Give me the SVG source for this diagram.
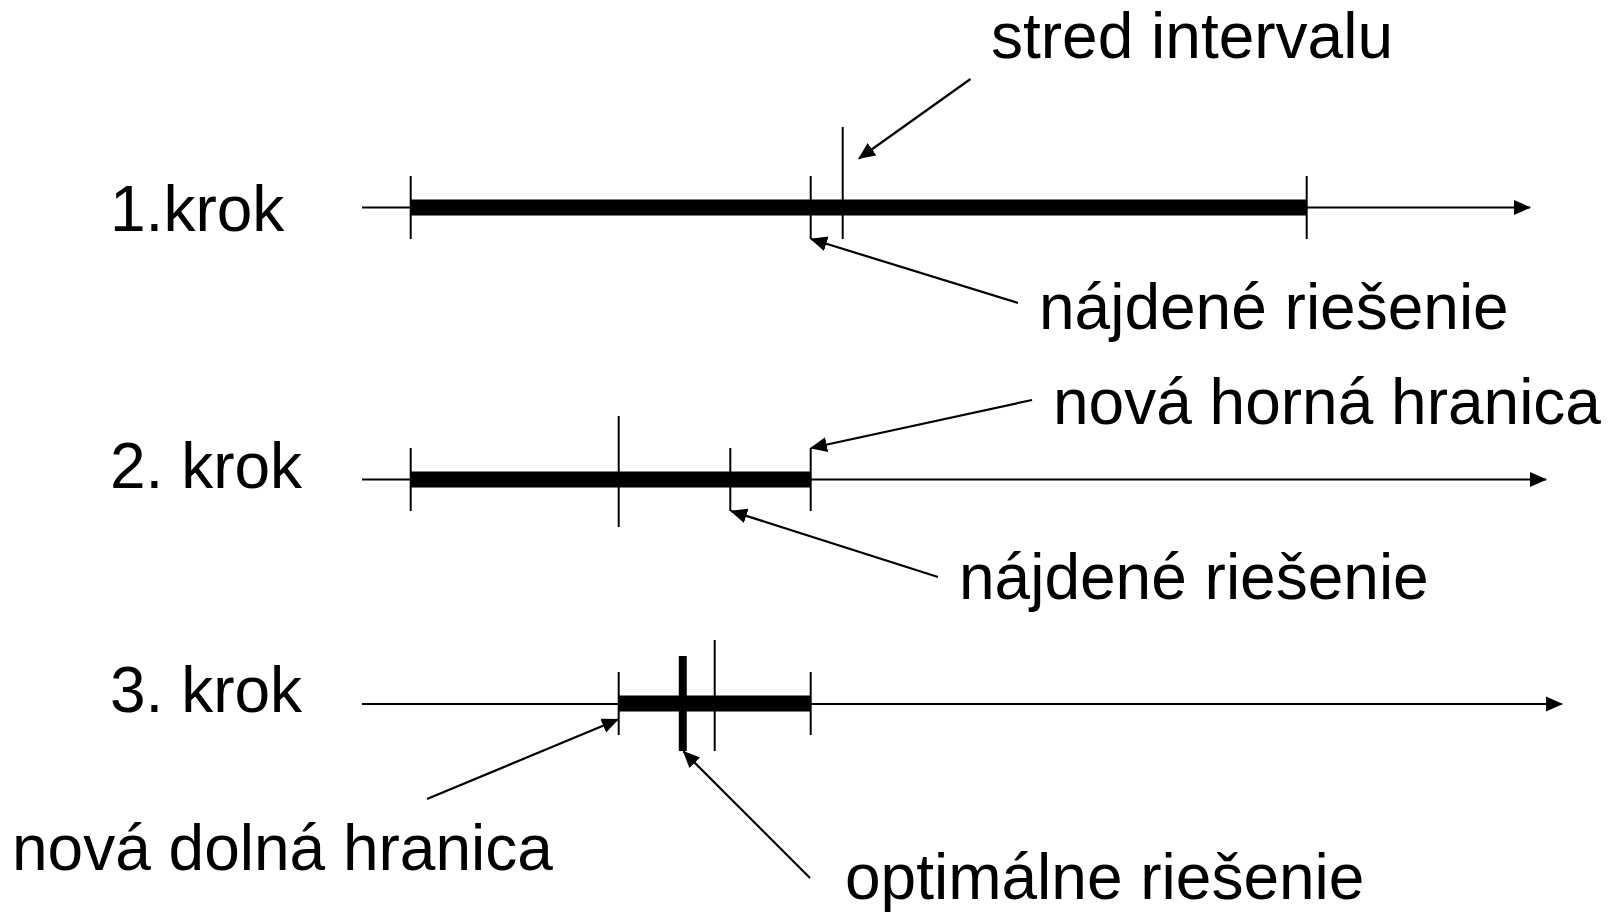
<svg xmlns="http://www.w3.org/2000/svg" width="1614" height="913" viewBox="0 0 1614 913">
  <style>
    .lbl { font-family: "Liberation Sans", Arial, sans-serif; font-size: 64px; fill: #000; }
    .axis { stroke: #000; stroke-width: 2; fill: none; }
    .bar { stroke: #000; stroke-width: 16; fill: none; }
    .tick { stroke: #000; stroke-width: 2; fill: none; }
    .opt { stroke: #000; stroke-width: 8; fill: none; }
    .call { stroke: #000; stroke-width: 2.2; fill: none; }
  </style>
  <defs>
    <marker id="head" markerUnits="userSpaceOnUse" markerWidth="17" markerHeight="17" viewBox="0 0 17 17" refX="16" refY="8.5" orient="auto">
      <path d="M0,1 L17,8.5 L0,16 Z" fill="#000"/>
    </marker>
  </defs>
  <rect width="1614" height="913" fill="#fff"/>

  <!-- step 1 -->
  <g id="step1">
    <text class="lbl" x="110" y="231">1.krok</text>
    <line class="axis" x1="362" y1="207.5" x2="1530" y2="207.5" marker-end="url(#head)"/>
    <line class="bar" x1="410.7" y1="207.5" x2="1306.7" y2="207.5"/>
    <line class="tick" x1="410.7" y1="176" x2="410.7" y2="239"/>
    <line class="tick" x1="810.7" y1="176" x2="810.7" y2="239"/>
    <line class="tick" x1="842.7" y1="127" x2="842.7" y2="239"/>
    <line class="tick" x1="1306.7" y1="176" x2="1306.7" y2="239"/>
  </g>

  <!-- step 2 -->
  <g id="step2">
    <text class="lbl" x="110" y="488">2. krok</text>
    <line class="axis" x1="362" y1="479.5" x2="1546" y2="479.5" marker-end="url(#head)"/>
    <line class="bar" x1="410.7" y1="479.5" x2="810.7" y2="479.5"/>
    <line class="tick" x1="410.7" y1="448" x2="410.7" y2="511"/>
    <line class="tick" x1="618.7" y1="416" x2="618.7" y2="527"/>
    <line class="tick" x1="730.3" y1="448" x2="730.3" y2="511"/>
    <line class="tick" x1="810.7" y1="448" x2="810.7" y2="511"/>
  </g>

  <!-- step 3 -->
  <g id="step3">
    <text class="lbl" x="110" y="712">3. krok</text>
    <line class="axis" x1="362" y1="704" x2="1562" y2="704" marker-end="url(#head)"/>
    <line class="bar" x1="618.7" y1="703.5" x2="810.7" y2="703.5"/>
    <line class="tick" x1="618.7" y1="672" x2="618.7" y2="735"/>
    <line class="tick" x1="714.7" y1="640" x2="714.7" y2="751"/>
    <line class="tick" x1="810.7" y1="672" x2="810.7" y2="735"/>
    <line class="opt" x1="682.8" y1="656" x2="682.8" y2="751"/>
  </g>

  <!-- labels -->
  <g id="label-stred">
    <text class="lbl" x="991" y="58">stred intervalu</text>
  </g>
  <g id="label-najdene1">
    <text class="lbl" x="1039" y="329">nájdené riešenie</text>
  </g>
  <g id="label-horna">
    <text class="lbl" x="1053" y="424">nová horná hranica</text>
  </g>
  <g id="label-najdene2">
    <text class="lbl" x="959" y="599">nájdené riešenie</text>
  </g>
  <g id="label-dolna">
    <text class="lbl" x="12" y="870">nová dolná hranica</text>
  </g>
  <g id="label-optimal">
    <text class="lbl" x="845" y="899">optimálne riešenie</text>
  </g>

  <!-- callout arrows -->
  <g id="connectors">
    <line class="call" x1="970.5" y1="79" x2="859" y2="158.5" marker-end="url(#head)"/>
    <line class="call" x1="1018" y1="303" x2="811" y2="239" marker-end="url(#head)"/>
    <line class="call" x1="1032" y1="400" x2="811" y2="448" marker-end="url(#head)"/>
    <line class="call" x1="938" y1="577" x2="731" y2="511" marker-end="url(#head)"/>
    <line class="call" x1="427" y1="799" x2="618" y2="719.5" marker-end="url(#head)"/>
    <line class="call" x1="810" y1="878" x2="683.5" y2="751.5" marker-end="url(#head)"/>
  </g>
</svg>
